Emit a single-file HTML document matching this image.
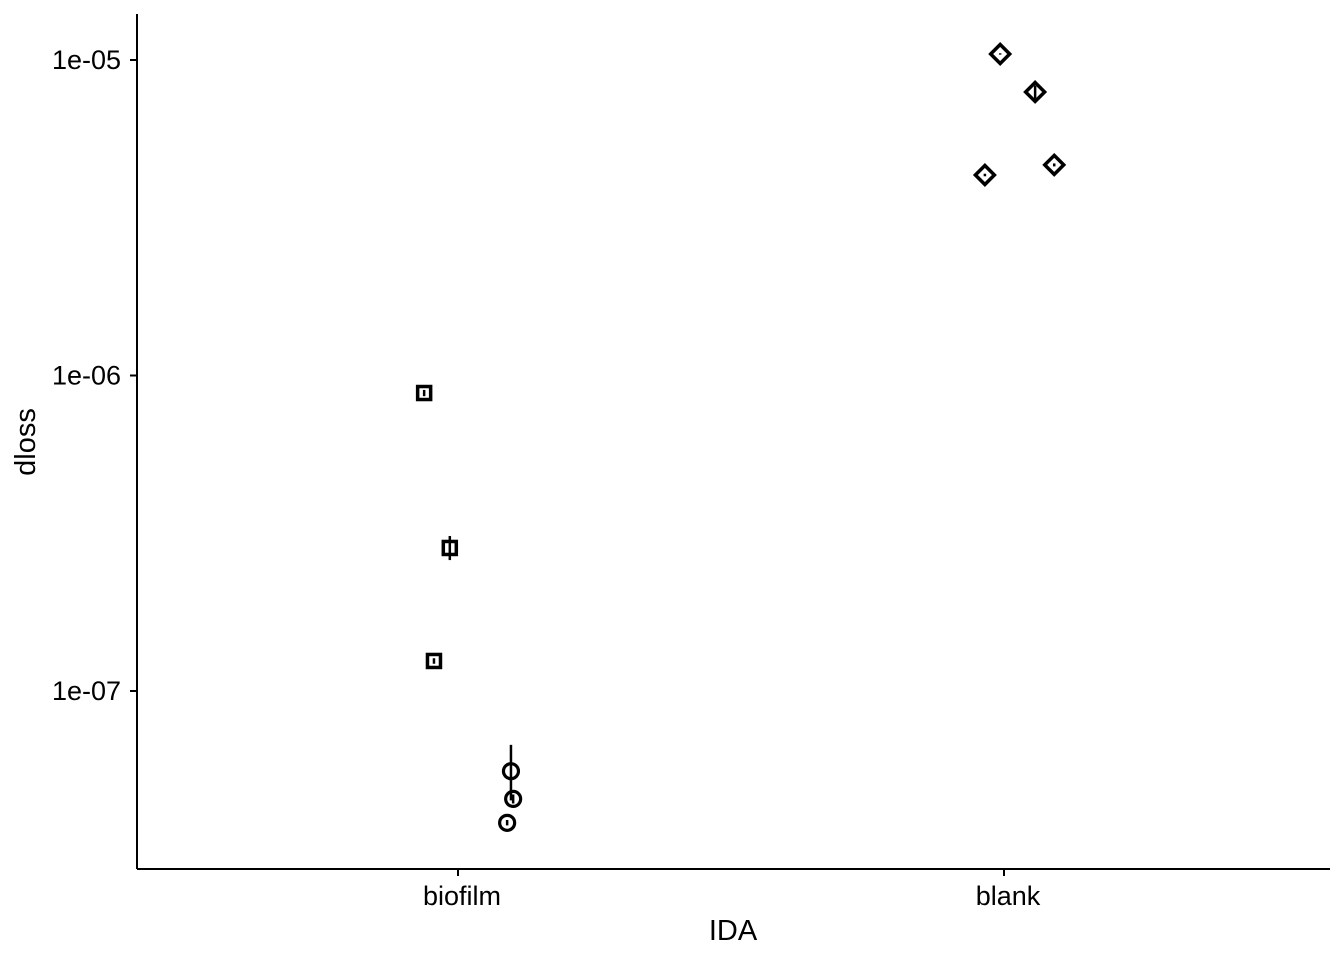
<!DOCTYPE html>
<html><head><meta charset="utf-8"><style>
html,body{margin:0;padding:0;background:#fff;}
svg{display:block;font-family:"Liberation Sans",Arial,sans-serif;}
</style></head><body>
<svg id="chart" width="1344" height="960"></svg>
<script>
const categories = ["biofilm","blank"];
const yTickValues = [1e-7, 1e-6, 1e-5];
const yTickLabels = ["1e-07","1e-06","1e-05"];
const seriesCat = [0,0,0,0,0,0,1,1,1,1];
const seriesJitter = [-0.062,-0.015,-0.044,0.097,0.101,0.090,-0.007,0.057,0.092,-0.035];
const seriesShape = ["square","square","square","circle","circle","circle","diamond","diamond","diamond","diamond"];
const seriesValues = [8.8e-7,2.84e-7,1.245e-7,5.57e-8,4.55e-8,3.82e-8,1.045e-5,7.92e-6,4.65e-6,4.32e-6];
const seriesLow = [8.6e-7,2.6e-7,1.22e-7,4.5e-8,4.4e-8,3.75e-8,1.04e-5,7.5e-6,4.6e-6,4.28e-6];
const seriesHigh = [9.0e-7,3.1e-7,1.27e-7,6.75e-8,4.7e-8,3.9e-8,1.05e-5,8.3e-6,4.7e-6,4.36e-6];

const NS="http://www.w3.org/2000/svg";
const svg=document.getElementById('chart');
const L=137,R=1330,T=14,B=869;
function y(v){return 60+(-5-Math.log10(v))*315.5;}
function x(c){return 458+c*546;}
function mk(tag,attrs){const e=document.createElementNS(NS,tag);for(const k in attrs)e.setAttribute(k,attrs[k]);svg.appendChild(e);return e;}

let e;
e=mk('line',{x1:L,y1:T,x2:L,y2:B,stroke:'#000','stroke-width':2});


e=mk('line',{x1:L,y1:B,x2:R,y2:B,stroke:'#000','stroke-width':2});



yTickValues.forEach((v,i)=>{
  const yy=y(v);
  e=mk('line',{x1:L-7,y1:yy,x2:L,y2:yy,stroke:'#000','stroke-width':2});
  
  
  e=mk('text',{x:L-16,y:yy+9,'text-anchor':'end','font-size':27,fill:'#000'});
  e.textContent=yTickLabels[i];
  
  
});
categories.forEach((c,i)=>{
  const xx=x(i);
  e=mk('line',{x1:xx,y1:B,x2:xx,y2:B+7,stroke:'#000','stroke-width':2});
  
  
  e=mk('text',{x:xx+4,y:905,'text-anchor':'middle','font-size':27,fill:'#000'});
  e.textContent=c;
  
  
});
e=mk('text',{x:733,y:940,'text-anchor':'middle','font-size':29,fill:'#000'});
e.textContent='IDA';


e=mk('text',{x:0,y:0,'text-anchor':'middle','font-size':29,fill:'#000',transform:'translate(35,442) rotate(-90)'});
e.textContent='dloss';



seriesValues.forEach((v,i)=>{
  const xx=x(seriesCat[i]+seriesJitter[i]), yy=y(v);
  e=mk('line',{x1:xx,y1:y(seriesLow[i]),x2:xx,y2:y(seriesHigh[i]),stroke:'#000','stroke-width':2.5});
  
  
  const s=seriesShape[i];
  if(s==='square'){
    e=mk('rect',{x:xx-6.5,y:yy-6.5,width:13,height:13,fill:'none',stroke:'#000','stroke-width':3.5});
  }else if(s==='circle'){
    e=mk('circle',{cx:xx,cy:yy,r:7.5,fill:'none',stroke:'#000','stroke-width':3.2});
  }else{
    e=mk('polygon',{points:`${xx},${yy-9.5} ${xx+9.5},${yy} ${xx},${yy+9.5} ${xx-9.5},${yy}`,fill:'none',stroke:'#000','stroke-width':3.5});
  }
  
  
});
</script>
</body></html>
